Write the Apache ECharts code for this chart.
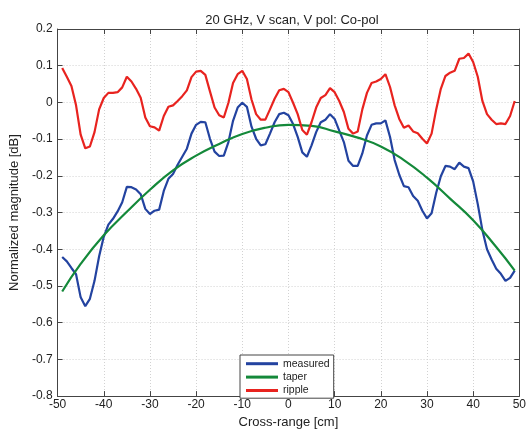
<!DOCTYPE html>
<html>
<head>
<meta charset="utf-8">
<script src="https://cdn.jsdelivr.net/npm/echarts@6/dist/echarts.min.js"></script>
<style>
  html, body { margin: 0; padding: 0; background: #fff; }
  #chart { width: 529px; height: 434px; }
</style>
</head>
<body>
<div id="chart"></div>
<script>
// cross-range positions [cm]
var crossRange = [-49,-48,-47,-46,-45,-44,-43,-42,-41,-40,-39,-38,-37,-36,-35,-34,-33,-32,-31,-30,
  -29,-28,-27,-26,-25,-24,-23,-22,-21,-20,-19,-18,-17,-16,-15,-14,-13,-12,-11,-10,
  -9,-8,-7,-6,-5,-4,-3,-2,-1,0,1,2,3,4,5,6,7,8,9,10,
  11,12,13,14,15,16,17,18,19,20,21,22,23,24,25,26,27,28,29,30,
  31,32,33,34,35,36,37,38,39,40,41,42,43,44,45,46,47,48,49]

var measured = [-0.421,-0.433,-0.451,-0.468,-0.531,-0.555,-0.535,-0.486,-0.419,-0.366,
  -0.333,-0.317,-0.297,-0.272,-0.230,-0.231,-0.237,-0.250,-0.290,-0.304,
  -0.295,-0.292,-0.241,-0.208,-0.195,-0.170,-0.148,-0.126,-0.085,-0.061,
  -0.053,-0.054,-0.099,-0.134,-0.146,-0.145,-0.108,-0.050,-0.014,-0.001,
  -0.012,-0.066,-0.099,-0.117,-0.114,-0.085,-0.054,-0.032,-0.028,-0.035,
  -0.059,-0.094,-0.136,-0.148,-0.117,-0.081,-0.054,-0.047,-0.032,-0.045,
  -0.077,-0.108,-0.159,-0.173,-0.173,-0.139,-0.090,-0.061,-0.057,-0.057,
  -0.049,-0.094,-0.157,-0.197,-0.228,-0.231,-0.255,-0.268,-0.295,-0.316,
  -0.302,-0.246,-0.201,-0.173,-0.175,-0.182,-0.164,-0.175,-0.179,-0.215,
  -0.277,-0.348,-0.400,-0.428,-0.453,-0.467,-0.486,-0.478,-0.458]

var ripple = [0.094,0.070,0.045,-0.008,-0.088,-0.125,-0.120,-0.081,-0.019,0.012,
  0.026,0.026,0.028,0.041,0.070,0.057,0.037,0.013,-0.041,-0.065,
  -0.068,-0.077,-0.037,-0.012,-0.008,0.004,0.017,0.033,0.069,0.084,
  0.086,0.075,0.030,-0.014,-0.035,-0.041,-0.001,0.053,0.077,0.086,
  0.064,0.008,-0.032,-0.047,-0.047,-0.019,0.010,0.033,0.037,0.028,
  -0.001,-0.032,-0.075,-0.088,-0.054,-0.014,0.012,0.020,0.039,0.028,
  0.004,-0.026,-0.072,-0.085,-0.079,-0.019,0.026,0.053,0.057,0.064,
  0.077,0.042,-0.008,-0.045,-0.069,-0.063,-0.079,-0.084,-0.099,-0.112,
  -0.085,-0.019,0.037,0.072,0.081,0.086,0.119,0.121,0.133,0.110,
  0.070,0.004,-0.032,-0.047,-0.059,-0.057,-0.059,-0.037,0.004]

// taper read at coarser positions
var taperX = [-49,-45,-40,-35,-30,-25,-20,-15,-10,-5,0,5,10,15,20,25,30,35,40,45,49]
var taperY = [-0.515,-0.440,-0.362,-0.298,-0.238,-0.185,-0.145,-0.113,-0.086,-0.069,-0.061,
  -0.064,-0.079,-0.096,-0.120,-0.157,-0.205,-0.262,-0.321,-0.394,-0.458]

var xTicks = { min: -50, max: 50, interval: 10 }
var yTicks = { min: -0.8, max: 0.2, interval: 0.1 }

function pairs(xs, ys){
    var out = []
    for(var i=0; i<xs.length; i++) out.push([xs[i], ys[i]])
    return out
}

var font = 'Liberation Sans, Arial, sans-serif'
var axisColor = '#444'

function xAxisCfg(pos, showLabel){
    return {
        type: 'value',
        position: pos,
        min: xTicks.min, max: xTicks.max, interval: xTicks.interval,
        name: showLabel ? 'Cross-range [cm]' : '',
        nameLocation: 'middle',
        nameGap: 17,
        nameTextStyle: { color: '#222', fontSize: 13, fontFamily: font },
        axisLine: { show: true, onZero: false, lineStyle: { color: axisColor, width: 1 } },
        axisTick: { show: true, inside: true, length: 5, lineStyle: { color: axisColor } },
        axisLabel: { show: showLabel, color: '#222', fontSize: 12, fontFamily: font, margin: 3 },
        splitLine: { show: showLabel, lineStyle: { color: '#d2d2d2', type: [1, 2], width: 1 } }
    }
}

function yAxisCfg(pos, showLabel){
    return {
        type: 'value',
        position: pos,
        min: yTicks.min, max: yTicks.max, interval: yTicks.interval,
        name: showLabel ? 'Normalized magnitude [dB]' : '',
        nameLocation: 'middle',
        nameGap: 30,
        nameTextStyle: { color: '#222', fontSize: 13, fontFamily: font },
        axisLine: { show: true, onZero: false, lineStyle: { color: axisColor, width: 1 } },
        axisTick: { show: true, inside: true, length: 5, lineStyle: { color: axisColor } },
        axisLabel: {
            show: showLabel, color: '#222', fontSize: 12, fontFamily: font, margin: 5,
            formatter: function(v){ return String(Math.round(v * 10) / 10) }
        },
        splitLine: { show: showLabel, lineStyle: { color: '#d2d2d2', type: [1, 2], width: 1 } }
    }
}

var myChart = echarts.init(document.getElementById('chart'))
var option = {
    animation: false,
    backgroundColor: '#fff',
    title: {
        text: '20 GHz, V scan, V pol: Co-pol',
        left: 287, top: 9, textAlign: 'center',
        textStyle: { color: '#222', fontSize: 13, fontWeight: 'normal', fontFamily: font }
    },
    grid: { left: 49, right: 6, top: 29, bottom: 32 },
    legend: {
        orient: 'vertical',
        left: 240, top: 355,
        padding: [2, 4, 1, 6],
        itemGap: 0,
        itemWidth: 32, itemHeight: 3,
        itemTextGap: 4,
        icon: 'rect',
        backgroundColor: '#fff',
        borderColor: '#444', borderWidth: 1,
        textStyle: { color: '#222', fontSize: 10.5, lineHeight: 13.4, fontFamily: font },
        data: ['measured', 'taper', 'ripple']
    },
    xAxis: [xAxisCfg('bottom', true), xAxisCfg('top', false)],
    yAxis: [yAxisCfg('left', true), yAxisCfg('right', false)],
    series: [
        {
            name: 'measured', type: 'line', symbol: 'none',
            lineStyle: { color: '#2343a0', width: 2.2 },
            itemStyle: { color: '#2343a0' },
            data: pairs(crossRange, measured)
        },
        {
            name: 'taper', type: 'line', symbol: 'none', smooth: true,
            lineStyle: { color: '#14893a', width: 2.2 },
            itemStyle: { color: '#14893a' },
            data: pairs(taperX, taperY)
        },
        {
            name: 'ripple', type: 'line', symbol: 'none',
            lineStyle: { color: '#e8231f', width: 2.2 },
            itemStyle: { color: '#e8231f' },
            data: pairs(crossRange, ripple)
        }
    ]
}
myChart.setOption(option)
</script>
</body>
</html>
